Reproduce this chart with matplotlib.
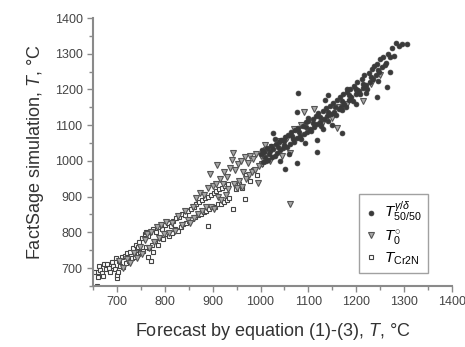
import numpy as np
import matplotlib
matplotlib.use('Agg')
import matplotlib.pyplot as plt
from matplotlib.ticker import MultipleLocator

plt.rcParams['font.family'] = ['Liberation Sans', 'DejaVu Sans']
plt.rcParams['mathtext.fontset'] = 'custom'
plt.rcParams['mathtext.it'] = 'Liberation Sans:italic'
plt.rcParams['mathtext.rm'] = 'Liberation Sans'

GREY = '#8a8a8a'
DARK = '#3a3a3a'

# T 50/50 (gamma/delta) - filled circles
t5050_x = [1002, 1005, 1008, 1010, 1013, 1016, 1018, 1021, 1024, 1027, 1030, 1032, 1035, 1038,
           1041, 1043, 1046, 1049, 1052, 1055, 1058, 1061, 1064, 1067, 1070, 1073, 1076, 1079,
           1082, 1085, 1088, 1091, 1094, 1097, 1100, 1103, 1106, 1109, 1112, 1115, 1118, 1121,
           1124, 1127, 1130, 1133, 1136, 1139, 1142, 1145, 1148, 1151, 1154, 1157, 1160, 1163,
           1166, 1169, 1172, 1175, 1178, 1181, 1184, 1187, 1190, 1193, 1196, 1199, 1202, 1205,
           1208, 1211, 1214, 1217, 1220, 1223, 1226, 1229, 1232, 1235, 1238, 1241, 1244, 1247,
           1250, 1253, 1256, 1262, 1266, 1270, 1275, 1283, 1290, 1296, 1305,
           1004, 1012, 1020, 1036, 1050, 1065, 1080, 1095, 1110, 1125, 1140, 1155, 1170, 1185,
           1200, 1215, 1230, 1245, 1260, 1278,
           1078, 1140, 1076, 1026, 1118, 1051, 1076, 1118, 1170, 1093, 1134, 1264, 1243, 1270,
           1170, 1040, 1030, 1200, 1150, 1100, 1060, 1220, 1180, 1245, 1130]
t5050_y = [1018, 998, 1025, 1012, 1036, 1002, 1020, 1042, 1010, 1034, 1015, 1048, 1022, 1052,
           1030, 1058, 1035, 1045, 1068, 1040, 1072, 1048, 1080, 1060, 1052, 1086, 1065, 1092,
           1070, 1060, 1098, 1075, 1108, 1082, 1112, 1090, 1085, 1118, 1096, 1126, 1102, 1135,
           1108, 1098, 1140, 1118, 1148, 1125, 1112, 1155, 1130, 1162, 1138, 1128, 1170, 1146,
           1178, 1152, 1188, 1160, 1150, 1192, 1170, 1202, 1178, 1168, 1210, 1188, 1222, 1195,
           1186, 1228, 1205, 1240, 1212, 1202, 1246, 1222, 1258, 1230, 1266, 1240, 1272, 1250,
           1284, 1262, 1290, 1275, 1300, 1292, 1315, 1331, 1322, 1327, 1328,
           1030, 1000, 1028, 1040, 1055, 1070, 1082, 1095, 1105, 1122, 1138, 1150, 1168, 1185,
           1200, 1215, 1235, 1255, 1268, 1295,
           1190, 1185, 1137, 1079, 1059, 978, 994, 1025, 1079, 1050, 1171, 1207, 1179, 1249,
           1143, 1000, 1060, 1160, 1100, 1120, 1020, 1190, 1200, 1225, 1090]

# T0 - grey down triangles
t0_x = [705, 712, 720, 728, 735, 742, 748, 752, 758, 762, 768, 772, 778, 783, 788, 792, 798,
        803, 808, 815, 822, 828, 835, 842, 848, 852, 858, 862,
        866, 870, 874, 878, 882, 886, 890, 894, 897, 900, 903, 907, 909, 912, 915, 918, 921,
        924, 927, 930, 933, 936, 940, 942, 944, 947, 950, 953, 956, 959, 961, 964, 967, 970,
        973, 976, 979, 982, 985, 988, 991, 994, 997, 1000, 1003, 1006, 1009, 1012,
        1025, 1040, 1055, 1061, 1070, 1085, 1090, 1111, 1159, 1214, 1130, 1150, 1165, 1180,
        1200, 1230, 1250, 1045, 1009, 1020, 1061]
t0_y = [720, 700, 725, 715, 742, 728, 760, 740, 778, 795, 755, 800, 772, 815, 785, 820, 795,
        830, 798, 825, 805, 845, 820, 860, 835, 826, 870, 840,
        895, 850, 910, 860, 905, 870, 925, 964, 872, 930, 865, 936, 989, 900, 950, 890, 935,
        970, 905, 955, 920, 980, 1003, 1023, 935, 975, 925, 990, 945, 1000, 927, 968, 1010, 950,
        995, 960, 1015, 970, 1005, 975, 1020, 938, 985, 1015, 992, 1025, 1000, 1030,
        1040, 1055, 1065, 880, 1090, 1100, 1137, 1146, 1093, 1168, 1110, 1120, 1150, 1160,
        1195, 1215, 1240, 1015, 1045, 1000, 1022]

# T Cr2N - open squares
tcr_x = [658, 655, 660, 662, 665, 668, 671, 674, 677, 680, 683, 686, 689, 692, 695, 698, 700,
         701, 702, 704, 707, 710, 713, 716, 719, 722, 725, 728, 731, 734, 737, 740, 743, 746,
         749, 752, 755, 758, 761, 764, 767, 770, 772, 773, 776, 779, 782, 785, 788, 791, 794,
         797, 800, 803, 806, 809, 812, 815, 818, 821, 824, 827, 830, 833, 836, 839, 842, 845,
         848, 851, 854, 857, 860, 863, 866, 869, 872, 875, 878, 881, 884, 887, 890, 890, 893,
         896, 899, 902, 905, 908, 911, 914, 917, 920, 923, 926, 929, 932, 935, 942, 948, 955,
         962, 967, 970, 978, 985, 992, 1000, 760, 765, 775, 745, 660]
tcr_y = [650, 690, 690, 705, 695, 685, 678, 710, 698, 712, 700, 690, 718, 705, 698, 728, 672,
         680, 690, 720, 705, 730, 702, 735, 715, 742, 720, 745, 728, 755, 730, 765, 738, 772,
         745, 785, 748, 795, 760, 790, 755, 800, 720, 765, 810, 775, 800, 765, 815, 785, 808,
         780, 820, 795, 825, 790, 818, 798, 832, 810, 840, 805, 842, 815, 850, 822, 848, 825,
         860, 832, 865, 838, 872, 842, 878, 848, 885, 850, 890, 858, 895, 860, 818, 900, 865,
         905, 870, 910, 872, 915, 878, 920, 880, 925, 885, 930, 890, 935, 895, 866, 920, 935,
         925, 894, 960, 945, 975, 960, 990, 800, 730, 745, 760, 675]

fig = plt.figure(figsize=(4.65, 3.47), dpi=100)
ax = fig.add_axes([0.2, 0.176, 0.772, 0.772])

ax.plot(tcr_x, tcr_y, linestyle='', marker='s', markersize=3.3, markerfacecolor='white',
        markeredgecolor='#444444', markeredgewidth=0.8, label=r'$T_{\mathrm{Cr2N}}$', zorder=2)
ax.plot(t0_x, t0_y, linestyle='', marker='v', markersize=4.6, markerfacecolor='#a8a8a8',
        markeredgecolor='#555555', markeredgewidth=0.8, label=r'$T^{\circ}_{0}$', zorder=3)
ax.plot(t5050_x, t5050_y, linestyle='', marker='o', markersize=3.5, markerfacecolor=DARK,
        markeredgecolor=DARK, markeredgewidth=0.5, label=r'$T^{\gamma/\delta}_{50/50}$', zorder=4)

ax.set_xlim(650, 1400)
ax.set_ylim(650, 1400)
ax.xaxis.set_minor_locator(MultipleLocator(50))
ax.yaxis.set_minor_locator(MultipleLocator(50))
ax.set_xticks([700, 800, 900, 1000, 1100, 1200, 1300, 1400])
ax.set_yticks([700, 800, 900, 1000, 1100, 1200, 1300, 1400])

for s in ['top', 'right']:
    ax.spines[s].set_visible(False)
for s in ['left', 'bottom']:
    ax.spines[s].set_color(GREY)
    ax.spines[s].set_linewidth(1.5)
ax.tick_params(which='major', length=4, width=1, color=GREY, labelsize=9, labelcolor='#444444')
ax.tick_params(which='minor', length=3, width=1, color=GREY)

ax.set_xlabel(r'Forecast by equation (1)-(3), $\mathit{T}$, °C', fontsize=13, color='#333333', labelpad=9)
ax.set_ylabel(r'FactSage simulation, $\mathit{T}$, °C', fontsize=13, color='#333333', labelpad=6)

h, l = ax.get_legend_handles_labels()
leg = ax.legend(h[::-1], l[::-1], loc='lower right', bbox_to_anchor=(0.955, 0.02), fontsize=11,
                frameon=True, fancybox=False, edgecolor=GREY, handlelength=0.8,
                handletextpad=0.5, labelspacing=0.25, borderpad=0.4)
leg.get_frame().set_linewidth(1.0)

fig.savefig('out.png', dpi=100)
